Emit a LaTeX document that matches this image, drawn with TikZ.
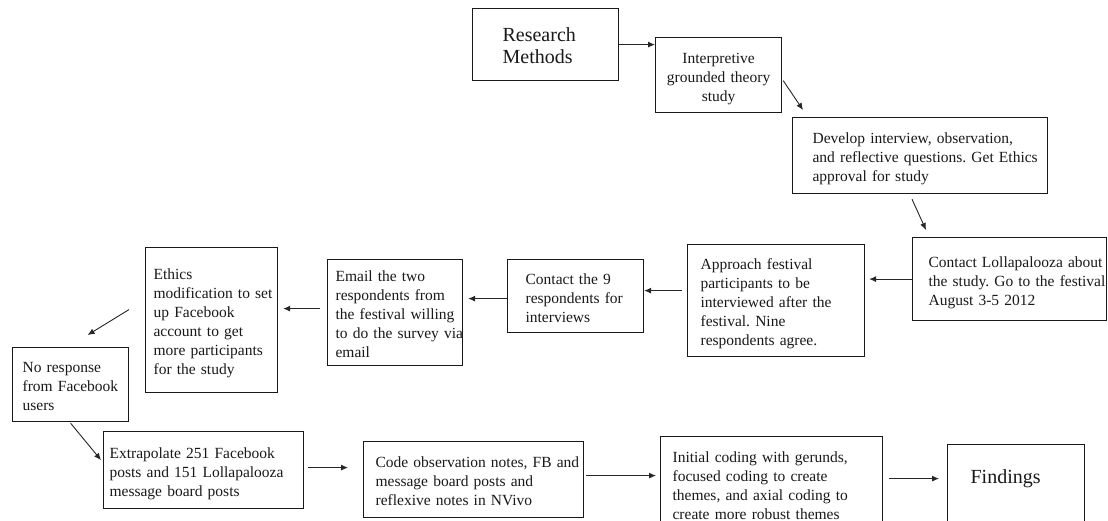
\documentclass[tikz,border=0pt]{standalone}
\usepackage{fontspec}
\setmainfont{Liberation Serif}
\frenchspacing
\usetikzlibrary{arrows.meta,calc}
\newcommand\mybtl[1]{\raisebox{-3.5pt}[\height][\depth]{\begin{tabular}{@{}l@{}}#1\end{tabular}}}
\newcommand\mybtc[1]{\raisebox{-3.5pt}[\height][\depth]{\begin{tabular}{@{}c@{}}#1\end{tabular}}}
\begin{document}
\begin{tikzpicture}[x=1pt,y=-1pt,
  box/.style={draw=black!90, line width=1.2pt, rectangle, anchor=north west,
    inner ysep=0pt, text=black!90, font=\fontsize{15.5}{19}\selectfont, align=left},
  big/.style={font=\fontsize{20}{22}\selectfont},
  conn/.style={draw=black!85, line width=0.9pt, -{Latex[length=7pt,width=6pt]}}]
\path[use as bounding box] (0,0) rectangle (1108,521);
\clip (0,0) rectangle (1108,521);
\fill[white] (0,0) rectangle (1108,521);

\node[box, big, minimum width=146, minimum height=72, text width=86, inner xsep=30] (rm) at (472,8)
  {\mybtl{Research\\Methods}};
\node[box, align=center, minimum width=126, minimum height=75, text width=118, inner xsep=4] (interp) at (655,37)
  {\mybtc{Interpretive\\grounded theory\\study}};
\node[box, minimum width=255, minimum height=76, text width=215, inner xsep=20] (develop) at (792,117)
  {\mybtl{Develop interview, observation,\\and reflective questions. Get Ethics\\approval for study}};
\node[box, minimum width=194, minimum height=83, text width=162, inner xsep=16] (cl) at (912,237)
  {\mybtl{Contact Lollapalooza about\\the study. Go to the festival\\August 3-5 2012}};
\node[box, minimum width=177, minimum height=112, text width=151, inner xsep=13] (approach) at (687,244)
  {\mybtl{Approach festival\\participants to be\\interviewed after the\\festival. Nine\\respondents agree.}};
\node[box, minimum width=136, minimum height=73, text width=100, inner xsep=18] (c9) at (507,259)
  {\mybtl{Contact the 9\\respondents for\\interviews}};
\node[box, minimum width=135, minimum height=106, text width=119, inner xsep=8] (email) at (327,259)
  {\mybtl{Email the two\\respondents from\\the festival willing\\to do the survey via\\email}};
\node[box, minimum width=132, minimum height=145, text width=116, inner xsep=8] (ethics) at (145,247)
  {\mybtl{Ethics\\modification to set\\up Facebook\\account to get\\more participants\\for the study}};
\node[box, minimum width=116, minimum height=74, text width=96, inner xsep=10] (noresp) at (12,347)
  {\mybtl{No response\\from Facebook\\users}};
\node[box, minimum width=200, minimum height=77, text width=188, inner xsep=6] (extrap) at (103,431)
  {\mybtl{Extrapolate 251 Facebook\\posts and 151 Lollapalooza\\message board posts}};
\node[box, minimum width=220, minimum height=76, text width=196, inner xsep=12] (code) at (363,441)
  {\mybtl{Code observation notes, FB and\\message board posts and\\reflexive notes in NVivo}};
\node[box, minimum width=222, minimum height=94, text width=198, inner xsep=12] (initial) at (660,436)
  {\mybtl{Initial coding with gerunds,\\focused coding to create\\themes, and axial coding to\\create more robust themes}};
\node[box, big, minimum width=137, minimum height=0, text width=91, inner xsep=23, inner ysep=15,
  text height=25pt, text depth=31pt] (findings) at (947,444)
  {\begin{tabular}{@{}l@{}}Findings\end{tabular}};

\draw[conn] (rm.east) -- (rm.east -| interp.west);
\draw[conn] ($(interp.east)+(1,5.5)$) -- ($(develop.north west)+(11,-7)$);
\draw[conn] ($(develop.south west)+(120,5)$) -- ($(cl.north west)+(14,-7)$);
\draw[conn] (cl.west) -- ($(cl.west -| approach.east)+(4,0)$);
\draw[conn] ($(approach.west)+(-5,-10)$) -- ($(approach.west -| c9.east)+(0,-10)$);
\draw[conn] ($(c9.west)+(0,2.5)$) -- ($(c9.west -| email.east)+(5,2.5)$);
\draw[conn] ($(email.west)+(-7,-4)$) -- ($(email.west -| ethics.east)+(5,-4)$);
\draw[conn] ($(ethics.west)+(-16,-10.5)$) -- ($(noresp.north)+(17,-12)$);
\draw[conn] ($(noresp.south)+(0,1)$) -- ($(extrap.west)+(-2,-10)$);
\draw[conn] ($(extrap.east)+(4,-2.5)$) -- ($(extrap.east -| code.west)+(-15,-2.5)$);
\draw[conn] ($(code.east)+(2,-4)$) -- ($(code.east -| initial.west)+(-4,-4)$);
\draw[conn] ($(initial.east)+(6,-5)$) -- ($(initial.east -| findings.west)+(-8,-5)$);
\end{tikzpicture}
\end{document}
